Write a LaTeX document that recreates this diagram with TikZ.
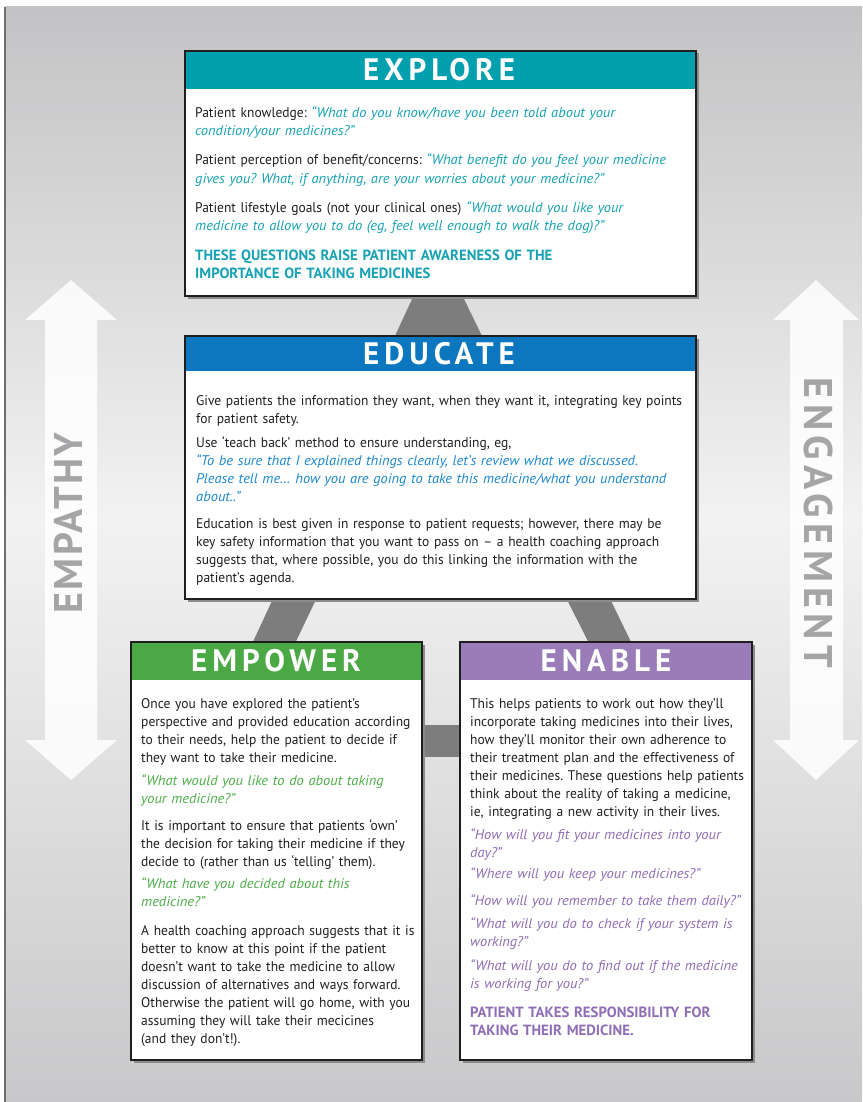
\documentclass[tikz,border=0pt]{standalone}
\usepackage{fontspec}
\setmainfont{PT Sans}[UprightFeatures={FakeStretch=0.965}, ItalicFeatures={FakeStretch=1.035}, BoldFeatures={FakeStretch=1.0}]
\newfontfamily\titlefont[LetterSpace=16]{PT Sans}
\newfontfamily\sidefont[LetterSpace=6]{PT Sans}
\newfontfamily\sidefontb[LetterSpace=13.5]{PT Sans}
\usetikzlibrary{calc,shadows}
\definecolor{bgtop}{HTML}{C3C3C5}
\definecolor{bgmid}{HTML}{F2F2F2}
\definecolor{bgbot}{HTML}{C8C8CA}
\definecolor{edgec}{HTML}{6E6E6E}
\definecolor{bandc}{HTML}{7D7D7D}
\definecolor{linec}{HTML}{1E1E1E}
\definecolor{txt}{HTML}{231F20}
\definecolor{tealh}{HTML}{02A0AF}
\definecolor{tealt}{HTML}{17A2B4}
\definecolor{blueh}{HTML}{0C77BF}
\definecolor{bluet}{HTML}{1C88CF}
\definecolor{greenh}{HTML}{4BA945}
\definecolor{greent}{HTML}{4DAE48}
\definecolor{purph}{HTML}{9A7CB8}
\definecolor{purpt}{HTML}{8E6DB6}
\definecolor{sidec}{HTML}{A5A5A7}
\newcommand\qteal[1]{{\color{tealt}\itshape #1}}
\newcommand\qblue[1]{{\color{bluet}\itshape #1}}
\newcommand\qgreen[1]{{\color{greent}\itshape #1}}
\newcommand\qpurp[1]{{\color{purpt}\itshape #1}}
\newcommand\capsb[1]{{\bfseries\fontsize{14.8}{19}\selectfont #1}}
\begin{document}
\begin{tikzpicture}[x=1pt,y=-1pt,
  box/.style={draw=linec, line width=2.8pt, fill=white, inner sep=0pt, outer sep=0pt,
    drop shadow={shadow xshift=2.5pt, shadow yshift=-2.5pt, fill=black!45, opacity=1}},
  title/.style={text=white, font=\titlefont\bfseries\fontsize{31}{31}\selectfont, inner sep=0pt},
  body/.style={anchor=base west, inner sep=0pt, text width=#1, align=left,
    font=\fontsize{14}{18}\selectfont\frenchspacing, text=txt},
  side/.style={text=sidec, font=\sidefont\bfseries\fontsize{40}{40}\selectfont, inner sep=0pt},
  sideb/.style={text=sidec, font=\sidefontb\bfseries\fontsize{40}{40}\selectfont, inner sep=0pt},
  arrowbg/.style={fill=white, opacity=0.85},
  band/.style={fill=bandc}
]
\useasboundingbox (0,0) rectangle (862,1102);
\fill[white] (0,0) rectangle (862,1102);
\shade[top color=bgtop, bottom color=bgmid] (5,7) rectangle (862,520);
\shade[top color=bgmid, bottom color=bgbot] (5,520) rectangle (862,1102);
\draw[edgec, line width=1.2pt] (5,7) -- (5,1102);

% side arrows
\fill[arrowbg] (71,280) -- (117,320) -- (97,320) -- (97,740) -- (117,740) -- (71,780)
  -- (25,740) -- (45,740) -- (45,320) -- (25,320) -- cycle;
\fill[arrowbg] (816,280) -- (859,320) -- (843,320) -- (843,740) -- (859,740) -- (816,780)
  -- (773,740) -- (790,740) -- (790,320) -- (773,320) -- cycle;
\node[side, rotate=90] (empathy) at (68,523) {EMPATHY};
\node[sideb, rotate=-90] (engagement) at (818,523) {ENGAGEMENT};

% triangle bands
\coordinate (lt1) at (430.2,260); \coordinate (lt2) at (478,260);
\coordinate (lb1) at (226,700);   \coordinate (lb2) at (268,700);
\coordinate (rt1) at (445,260);   \coordinate (rt2) at (397,260);
\coordinate (rb1) at (659.3,700); \coordinate (rb2) at (617.3,700);
\fill[band] (lt1) -- (lt2) -- (lb2) -- (lb1) -- cycle;
\fill[band] (rt1) -- (rt2) -- (rb2) -- (rb1) -- cycle;
\coordinate (hb1) at (400,725); \coordinate (hb2) at (480,757);
\fill[band] (hb1) rectangle (hb2);

% EXPLORE
\node[box, minimum width=511pt, minimum height=245pt] (explore) at (440.5,173.5) {};
\fill[tealh] ($(explore.north west)+(1.4,1.4)$) rectangle ($(explore.north east)+(-1.4,38)$);
\node[title] (exploret) at (439,70) {EXPLORE};
\node[body=540pt] (ex1) at (195,118) {Patient knowledge: \qteal{“What do you know/have you been told about your\\condition/your medicines?”}};
\node[body=540pt] (ex2) at (195,165) {Patient perception of benefit/concerns: \qteal{“What benefit do you feel your medicine\\gives you? What, if anything, are your worries about your medicine?”}};
\node[body=540pt] (ex3) at (195,212) {Patient lifestyle goals (not your clinical ones) \qteal{“What would you like your\\medicine to allow you to do (eg, feel well enough to walk the dog)?”}};
\node[body=540pt, text=tealt] (ex4) at (195,260) {\capsb{THESE QUESTIONS RAISE PATIENT AWARENESS OF THE\\IMPORTANCE OF TAKING MEDICINES}};

% EDUCATE
\node[box, minimum width=511pt, minimum height=263pt] (educate) at (440.5,467.5) {};
\fill[blueh] ($(educate.north west)+(1.4,1.4)$) rectangle ($(educate.north east)+(-1.4,35)$);
\node[title] (educatet) at (439,354) {EDUCATE};
\node[body=540pt] (ed1) at (196,405) {Give patients the information they want, when they want it, integrating key points\\for patient safety.};
\node[body=540pt] (ed2) at (196,447) {Use ‘teach back’ method to ensure understanding, eg,\\\qblue{“To be sure that I explained things clearly, let’s review what we discussed.\\Please tell me… how you are going to take this medicine/what you understand\\about..”}};
\node[body=540pt] (ed3) at (196,528) {Education is best given in response to patient requests; however, there may be\\key safety information that you want to pass on – a health coaching approach\\suggests that, where possible, you do this linking the information with the\\patient’s agenda.};

% EMPOWER
\node[box, minimum width=291pt, minimum height=418pt] (empower) at (276.5,851) {};
\fill[greenh] ($(empower.north west)+(1.4,1.4)$) rectangle ($(empower.north east)+(-1.4,38)$);
\node[title] (empowert) at (276,661) {EMPOWER};
\node[body=320pt] (em1) at (141,708) {Once you have explored the patient’s\\perspective and provided education according\\to their needs, help the patient to decide if\\they want to take their medicine.};
\node[body=320pt] (em2) at (141,785) {\qgreen{“What would you like to do about taking\\your medicine?”}};
\node[body=320pt] (em3) at (141,830) {It is important to ensure that patients ‘own’\\the decision for taking their medicine if they\\decide to (rather than us ‘telling’ them).};
\node[body=320pt] (em4) at (141,888) {\qgreen{“What have you decided about this\\medicine?”}};
\node[body=320pt] (em5) at (141,935) {A health coaching approach suggests that it is\\better to know at this point if the patient\\doesn’t want to take the medicine to allow\\discussion of alternatives and ways forward.\\Otherwise the patient will go home, with you\\assuming they will take their mecicines\\(and they don’t!).};

% ENABLE
\node[box, minimum width=292pt, minimum height=418pt] (enable) at (606,851) {};
\fill[purph] ($(enable.north west)+(1.4,1.4)$) rectangle ($(enable.north east)+(-1.4,38)$);
\node[title] (enablet) at (606,661) {ENABLE};
\node[body=320pt] (en1) at (470,708) {This helps patients to work out how they’ll\\incorporate taking medicines into their lives,\\how they’ll monitor their own adherence to\\their treatment plan and the effectiveness of\\their medicines. These questions help patients\\think about the reality of taking a medicine,\\ie, integrating a new activity in their lives.};
\node[body=320pt] (en2) at (470,839) {\qpurp{“How will you fit your medicines into your\\day?”}};
\node[body=320pt] (en3) at (470,878) {\qpurp{“Where will you keep your medicines?”}};
\node[body=320pt] (en4) at (470,905) {\qpurp{“How will you remember to take them daily?”}};
\node[body=320pt] (en5) at (470,928) {\qpurp{“What will you do to check if your system is\\working?”}};
\node[body=320pt] (en6) at (470,970) {\qpurp{“What will you do to find out if the medicine\\is working for you?”}};
\node[body=320pt, text=purpt] (en7) at (470,1017) {\capsb{PATIENT TAKES RESPONSIBILITY FOR\\TAKING THEIR MEDICINE.}};
\end{tikzpicture}
\end{document}
